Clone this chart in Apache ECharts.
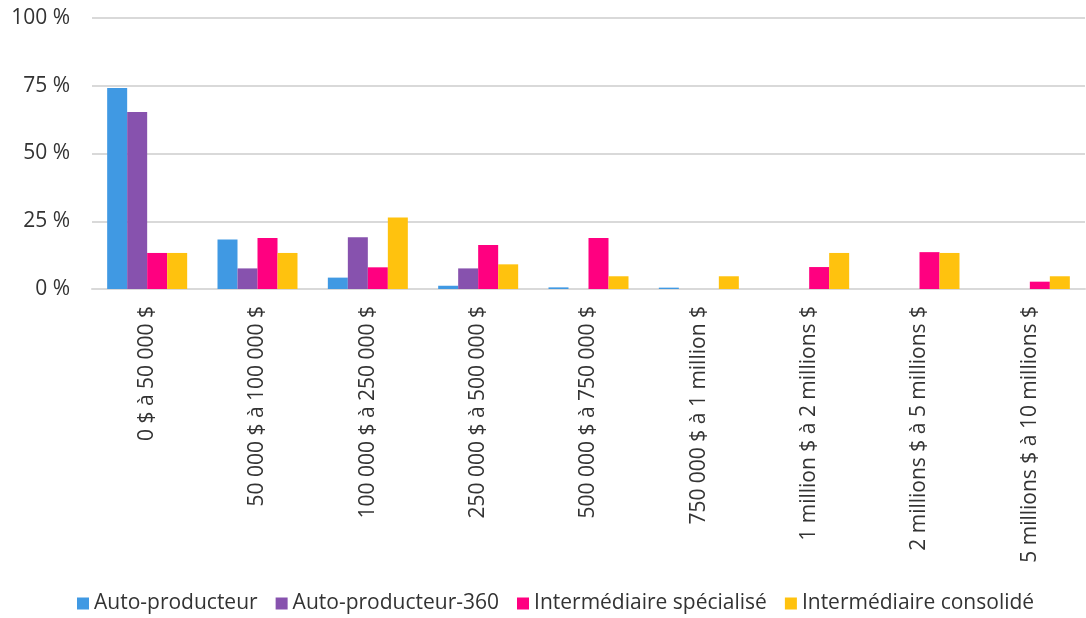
<!DOCTYPE html>
<html>
<head>
<meta charset="utf-8">
<script src="https://cdn.jsdelivr.net/npm/echarts@6/dist/echarts.min.js"></script>
<style>
  html, body { margin: 0; padding: 0; background: #fff; }
  #chart { width: 1086px; height: 618px; }
</style>
</head>
<body>
<div id="chart"></div>
<script>
const categories = [
  '0 $ à 50 000 $',
  '50 000 $ à 100 000 $',
  '100 000 $ à 250 000 $',
  '250 000 $ à 500 000 $',
  '500 000 $ à 750 000 $',
  '750 000 $ à 1 million $',
  '1 million $ à 2 millions $',
  '2 millions $ à 5 millions $',
  '5 millions $ à 10 millions $'
];
const autoProducteur = [74.2, 18.3, 4.2, 1.2, 0.6, 0.5, 0, 0, 0];
const autoProducteur360 = [65.3, 7.6, 19.1, 7.6, 0, 0, 0, 0, 0];
const intermediaireSpecialise = [13.3, 18.8, 8.0, 16.2, 18.8, 0, 8.1, 13.6, 2.7];
const intermediaireConsolide = [13.3, 13.3, 26.4, 9.1, 4.7, 4.7, 13.3, 13.3, 4.7];

const font = '"Open Sans", "Noto Sans", sans-serif';
const chart = echarts.init(document.getElementById('chart'), null, { renderer: 'canvas' });

const bar = (name, data, color) => ({
  name,
  type: 'bar',
  data,
  barWidth: 20,
  barGap: '0%',
  itemStyle: { color }
});

chart.setOption({
  animation: false,
  backgroundColor: '#fff',
  textStyle: { fontFamily: font, color: '#333' },
  grid: { left: 92, right: 1, top: 18, bottom: 329 },
  legend: {
    bottom: -1,
    left: 72,
    icon: 'rect',
    itemWidth: 12,
    itemHeight: 12,
    itemGap: 18,
    textStyle: { fontFamily: font, fontSize: 21, color: '#333' },
    data: ['Auto-producteur', 'Auto-producteur-360', 'Intermédiaire spécialisé', 'Intermédiaire consolidé']
  },
  xAxis: {
    type: 'category',
    data: categories,
    axisLine: { lineStyle: { color: '#d9d9d9', width: 2 } },
    axisTick: { show: false },
    axisLabel: { rotate: 90, interval: 0, fontSize: 21, color: '#333', margin: 17, fontFamily: font }
  },
  yAxis: {
    type: 'value',
    min: 0,
    max: 100,
    interval: 25,
    axisLine: { show: false },
    axisTick: { show: false },
    axisLabel: { formatter: '{value} %', fontSize: 21, color: '#333', margin: 22, fontFamily: font },
    splitLine: { lineStyle: { color: '#d9d9d9', width: 2 } }
  },
  series: [
    bar('Auto-producteur', autoProducteur, '#4099e3'),
    bar('Auto-producteur-360', autoProducteur360, '#8752ae'),
    bar('Intermédiaire spécialisé', intermediaireSpecialise, '#ff0080'),
    bar('Intermédiaire consolidé', intermediaireConsolide, '#ffc20e')
  ]
});
</script>
</body>
</html>
